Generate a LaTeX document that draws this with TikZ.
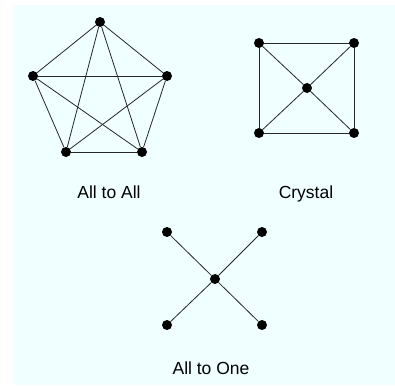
\documentclass[tikz,border=0pt]{standalone}
\usepackage{fontspec}
\setmainfont{Liberation Sans}
\usetikzlibrary{positioning}
\definecolor{panelbg}{RGB}{240,255,255}

\begin{document}
\begin{tikzpicture}[x=1pt,y=-1pt,
    every node/.style={font=\fontsize{17.5}{21}\selectfont},
    dot/.style={circle,fill=black,inner sep=0pt,minimum size=10pt},
    link/.style={line width=0.8pt,black!85}]
  \useasboundingbox (0,0) rectangle (395,385);
  \fill[panelbg] (13,5) rectangle (395,385);
  % all to all
  \node[dot] (a1) at (100,22) {};
  \node[dot] (a2) at (33,76) {};
  \node[dot] (a3) at (167,76) {};
  \node[dot] (a4) at (66,152) {};
  \node[dot] (a5) at (142,152) {};
  \foreach \u/\v in {a1/a2,a1/a3,a1/a4,a1/a5,a2/a3,a2/a4,a2/a5,a3/a4,a3/a5,a4/a5}
    \draw[link] (\u) -- (\v);
  \node[anchor=base] (alltoall) at (109,198) {All to All};
  % crystal
  \node[dot] (c1) at (259,43) {};
  \node[dot] (c2) at (354,43) {};
  \node[dot] (c3) at (259,133) {};
  \node[dot] (c4) at (354,133) {};
  \node[dot] (c0) at (307,88) {};
  \draw[link] (c1) -- (c2) -- (c4) -- (c3) -- (c1);
  \foreach \v in {c1,c2,c3,c4}
    \draw[link] (c0) -- (\v);
  \node[anchor=base] (crystal) at (306,198) {Crystal};
  % all to one
  \node[dot] (o1) at (167,232) {};
  \node[dot] (o2) at (262,232) {};
  \node[dot] (o3) at (167,325) {};
  \node[dot] (o4) at (262,325) {};
  \node[dot] (o0) at (215,279) {};
  \foreach \v in {o1,o2,o3,o4}
    \draw[link] (o0) -- (\v);
  \node[anchor=base] (alltoone) at (211,374) {All to One};
\end{tikzpicture}
\end{document}
